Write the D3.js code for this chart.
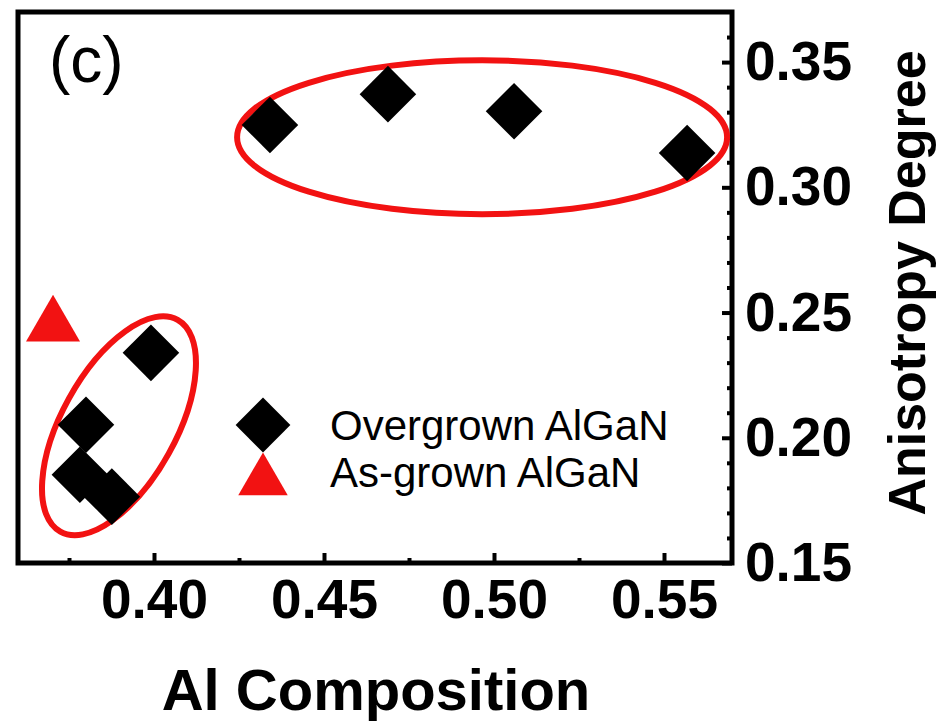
<!DOCTYPE html>
<meta charset="utf-8">
<style>
body { margin: 0; background: #fff; }
svg { display: block; font-family: 'Liberation Sans', Arial, sans-serif; }
.tick line { stroke: #000; stroke-width: 4px; }
.tick text { font-size: 55px; font-weight: bold; fill: #000; }
</style>
<svg width="938" height="721"></svg>
<script src="https://d3js.org/d3.v7.min.js"></script>
<script>

// overgrown AlGaN (diamonds)
var overX = [0.4341, 0.4688, 0.5059, 0.5568, 0.3991, 0.3800, 0.3782, 0.3876];
var overY = [0.3249, 0.3372, 0.3304, 0.3137, 0.2339, 0.2052, 0.1852, 0.1765];
// as-grown AlGaN (triangle)
var asX = [0.3703];
var asY = [0.2447];

var xTicks = [0.40, 0.45, 0.50, 0.55];
var xMinor = [0.375, 0.425, 0.475, 0.525];
var yTicks = [0.15, 0.20, 0.25, 0.30, 0.35];
var yMinor = [0.16, 0.17, 0.18, 0.19, 0.21, 0.22, 0.23, 0.24, 0.26, 0.27, 0.28, 0.29,
              0.31, 0.32, 0.33, 0.34, 0.36];

// circled groups: center in data units
var ringX = [0.4965, 0.3897];
var ringY = [0.3200, 0.2048];

var red = "#f21212";

var svg = d3.select("svg");

var x = d3.scaleLinear().domain([0.36, 0.57]).range([18, 732]);
var y = d3.scaleLinear().domain([0.15, 0.37]).range([563, 12]);

var fmt = d3.format(".2f");

// minor ticks
svg.append("g")
    .attr("transform", "translate(0," + y.range()[0] + ")")
    .call(d3.axisBottom(x).tickValues(xMinor).tickSize(-5).tickFormat(""))
    .call(function(g) { g.select(".domain").remove(); });

svg.append("g")
    .attr("transform", "translate(" + x.range()[1] + ",0)")
    .call(d3.axisRight(y).tickValues(yMinor).tickSize(-5).tickFormat(""))
    .call(function(g) { g.select(".domain").remove(); });

// major ticks + labels
svg.append("g")
    .attr("transform", "translate(0," + y.range()[0] + ")")
    .call(d3.axisBottom(x).tickValues(xTicks).tickSizeInner(-10).tickSizeOuter(0)
        .tickPadding(16).tickFormat(fmt))
    .call(function(g) { g.select(".domain").remove(); });

svg.append("g")
    .attr("transform", "translate(" + x.range()[1] + ",0)")
    .call(d3.axisRight(y).tickValues(yTicks).tickSizeInner(-10).tickSizeOuter(0)
        .tickPadding(13).tickFormat(fmt))
    .call(function(g) { g.select(".domain").remove(); });

// frame
svg.append("rect")
    .attr("x", x.range()[0])
    .attr("y", y.range()[1])
    .attr("width", x.range()[1] - x.range()[0])
    .attr("height", y.range()[0] - y.range()[1])
    .attr("fill", "none")
    .attr("stroke", "#000")
    .attr("stroke-width", 5);

// ellipses
var ringR = [[245, 77, 0], [57, 121, 29]];
svg.selectAll(".ring")
    .data(ringX)
    .enter().append("ellipse")
    .attr("class", "ring")
    .attr("transform", function(d, i) {
        return "translate(" + x(d) + "," + y(ringY[i]) + ") rotate(" + ringR[i][2] + ")";
    })
    .attr("rx", function(d, i) { return ringR[i][0]; })
    .attr("ry", function(d, i) { return ringR[i][1]; })
    .attr("fill", "none")
    .attr("stroke", red)
    .attr("stroke-width", 6);

var diamond = d3.symbol().type(d3.symbolSquare).size(1600);
var tri = d3.symbol().type(d3.symbolTriangle).size(1264);

svg.selectAll(".over")
    .data(overX)
    .enter().append("path")
    .attr("class", "over")
    .attr("d", diamond)
    .attr("transform", function(d, i) {
        return "translate(" + x(d) + "," + y(overY[i]) + ") rotate(45)";
    })
    .attr("fill", "#000");

svg.selectAll(".as")
    .data(asX)
    .enter().append("path")
    .attr("class", "as")
    .attr("d", tri)
    .attr("transform", function(d, i) {
        return "translate(" + x(d) + "," + y(asY[i]) + ")";
    })
    .attr("fill", red);

// legend
var leg = svg.append("g").attr("transform", "translate(263,425)");
leg.append("path")
    .attr("d", d3.symbol().type(d3.symbolSquare).size(1500))
    .attr("transform", "rotate(45)")
    .attr("fill", "#000");
leg.append("path")
    .attr("d", d3.symbol().type(d3.symbolTriangle).size(1060))
    .attr("transform", "translate(0,56)")
    .attr("fill", red);
leg.append("text")
    .attr("x", 67).attr("y", 15)
    .style("font-size", "42px")
    .text("Overgrown AlGaN");
leg.append("text")
    .attr("x", 67).attr("y", 62)
    .style("font-size", "42px")
    .text("As-grown AlGaN");

// panel label
svg.append("text")
    .attr("x", 49).attr("y", 82)
    .style("font-size", "64px")
    .text("(c)");

// axis titles
svg.append("text")
    .attr("x", 376).attr("y", 710)
    .attr("text-anchor", "middle")
    .style("font-size", "58px")
    .style("font-weight", "bold")
    .text("Al Composition");

svg.append("text")
    .attr("transform", "translate(925,283) rotate(-90)")
    .attr("text-anchor", "middle")
    .style("font-size", "52px")
    .style("font-weight", "bold")
    .text("Anisotropy Degree");

</script>
